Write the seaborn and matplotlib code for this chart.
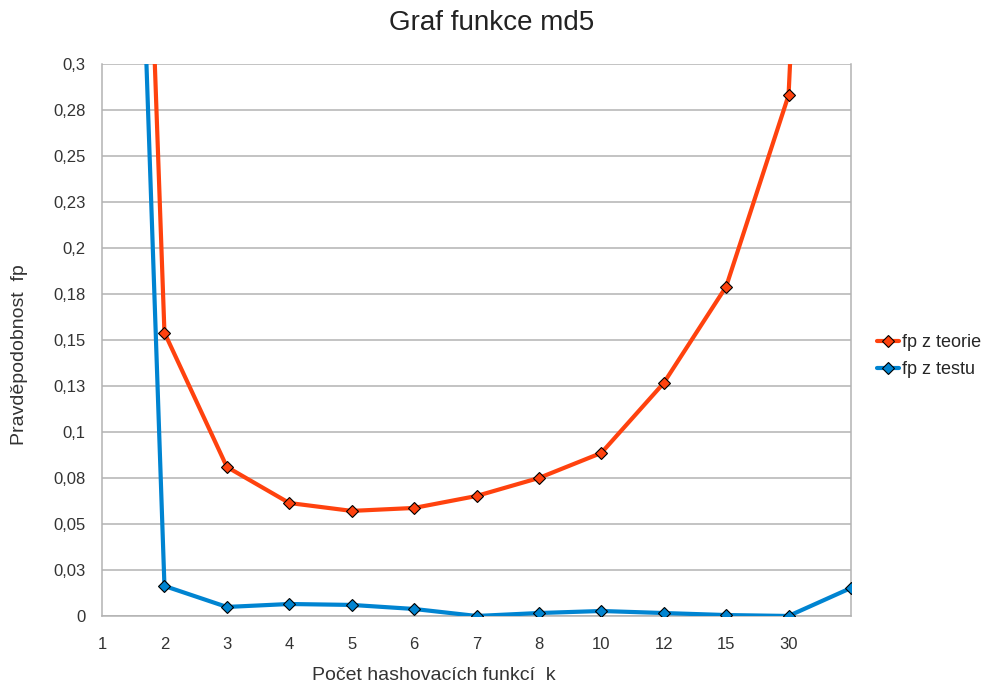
import numpy as np
import pandas as pd
import seaborn as sns
import matplotlib.pyplot as plt

# categories on the x axis (last one has no label)
k_labels = ["1", "2", "3", "4", "5", "6", "7", "8", "10", "12", "15", "30", ""]
fp_teorie = [1.10, 0.154, 0.081, 0.0614, 0.0571, 0.0587, 0.0652, 0.075, 0.0886, 0.1266, 0.179, 0.283, 1.0]
fp_testu = [1.0, 0.0163, 0.0049, 0.0065, 0.006, 0.0038, 0.0, 0.0016, 0.0027, 0.0016, 0.0005, 0.0, 0.0152]
y_ticks = [0, 0.025, 0.05, 0.075, 0.1, 0.125, 0.15, 0.175, 0.2, 0.225, 0.25, 0.275, 0.3]
y_labels = ["0", "0,03", "0,05", "0,08", "0,1", "0,13", "0,15", "0,18", "0,2", "0,23", "0,25", "0,28", "0,3"]

pos = np.arange(len(k_labels))
df = pd.concat([
    pd.DataFrame({"k": pos, "fp": fp_teorie, "serie": "fp z teorie"}),
    pd.DataFrame({"k": pos, "fp": fp_testu, "serie": "fp z testu"}),
])

sns.set_style("white")
plt.rcParams["font.family"] = ["Liberation Sans", "DejaVu Sans"]

grid_c = "#b3b3b3"
fig = plt.figure(figsize=(9.84, 6.88), dpi=100)
ax = fig.add_axes([0.1037, 0.1047, 0.7611, 0.8023])

sns.lineplot(data=df, x="k", y="fp", hue="serie", style="serie",
             palette={"fp z teorie": "#ff420e", "fp z testu": "#0084d1"},
             markers={"fp z teorie": "D", "fp z testu": "D"}, dashes=False,
             linewidth=3, markersize=6, markeredgecolor="black", markeredgewidth=0.8,
             ax=ax, zorder=3)

ax.set_xlim(0, len(k_labels) - 1)
ax.set_ylim(0, 0.3)
ax.set_xticks(pos)
ax.set_xticklabels(k_labels)
ax.set_yticks(y_ticks)
ax.set_yticklabels(y_labels)
ax.yaxis.grid(True, color=grid_c, linewidth=1.1)
ax.set_axisbelow(True)
for s in ax.spines.values():
    s.set_color(grid_c)
    s.set_linewidth(1.1)
ax.spines["top"].set_visible(False)
ax.tick_params(axis="both", direction="out", length=8, width=1.1, color=grid_c,
               labelsize=12, labelcolor="#333333", pad=4)
ax.tick_params(axis="x", pad=7)

fig.suptitle("Graf funkce md5", x=0.5, y=0.985, fontsize=20, color="#222222")
ax.set_xlabel("Počet hashovacích funkcí  k", fontsize=14, color="#333333")
ax.set_ylabel("Pravděpodobnost  fp", fontsize=14, color="#333333")
ax.xaxis.set_label_coords(0.443, -0.092)
ax.yaxis.set_label_coords(-0.099, 0.473)

ax.legend(title=None, loc="center left", bbox_to_anchor=(1.035, 0.471), frameon=False,
          borderaxespad=0, borderpad=0, fontsize=13, handlelength=1.2,
          handletextpad=0.15, labelspacing=0.55)

fig.savefig("out.png", dpi=100)
